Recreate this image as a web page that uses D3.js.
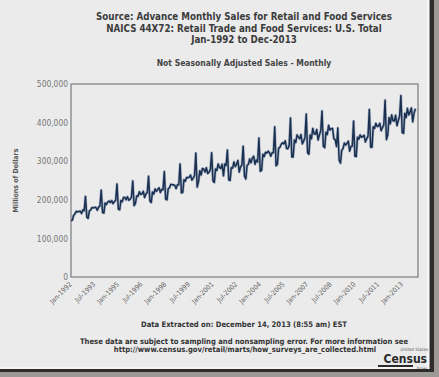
<!DOCTYPE html>
<html>
<head>
<meta charset="utf-8">
<script src="https://cdn.jsdelivr.net/npm/d3@7"></script>
<style>
  body { margin: 0; background: #ebebeb; }
  svg { display: block; }
</style>
</head>
<body>
<div class="visual-data"></div>
<script>
const width = 439;
const height = 377;
const plotLeft = 71;
const plotRight = 418;
const plotTop = 84;
const plotBottom = 277;

//Monthly sales, millions of dollars, Jan-1992 onwards
const startMonth = new Date(1992, 0, 1);
const sales1992_1997 = [
  146400, 147100, 159300, 163700, 170100, 168700, 169900, 170400, 164600, 173700, 171500, 208800,
  155000, 152000, 171000, 174000, 180000, 179000, 180500, 180000, 173000, 181000, 184000, 225000,
  167000, 166000, 192000, 188000, 194000, 197000, 193000, 198000, 190000, 195000, 199000, 241000,
  176000, 174000, 198000, 195000, 206000, 206000, 200000, 208000, 199000, 201000, 207000, 249000,
  185000, 191000, 210000, 209000, 221000, 214000, 215000, 222000, 206000, 215000, 219000, 261000,
  197000, 193000, 220000, 215000, 228000, 222000, 227000, 231000, 219000, 227000, 226000, 273000
];
const sales1998_2003 = [
  202000, 200000, 229000, 231000, 240000, 239000, 239000, 237000, 229000, 239000, 239000, 293000,
  218000, 219000, 252000, 248000, 258000, 257000, 259000, 264000, 251000, 256000, 263000, 321000,
  233000, 247000, 275000, 264000, 281000, 280000, 272000, 283000, 268000, 271000, 278000, 322000,
  249000, 245000, 280000, 276000, 293000, 284000, 281000, 292000, 262000, 293000, 289000, 329000,
  252000, 250000, 283000, 282000, 298000, 286000, 292000, 302000, 272000, 285000, 290000, 339000,
  261000, 254000, 289000, 292000, 306000, 296000, 308000, 313000, 292000, 303000, 298000, 360000
];
const sales2004_2008 = [
  274000, 276000, 318000, 312000, 323000, 321000, 326000, 322000, 313000, 322000, 322000, 389000,
  288000, 292000, 334000, 336000, 344000, 348000, 345000, 353000, 333000, 332000, 341000, 412000,
  311000, 311000, 355000, 348000, 368000, 363000, 358000, 369000, 345000, 352000, 361000, 422000,
  322000, 318000, 368000, 358000, 385000, 371000, 370000, 382000, 355000, 368000, 378000, 430000,
  339000, 335000, 375000, 369000, 393000, 381000, 384000, 385000, 358000, 356000, 338000, 386000
];
const sales2009_2013 = [
  303000, 295000, 328000, 333000, 347000, 342000, 346000, 352000, 326000, 338000, 339000, 404000,
  313000, 312000, 362000, 357000, 368000, 362000, 364000, 367000, 350000, 358000, 365000, 434000,
  336000, 336000, 389000, 385000, 398000, 390000, 391000, 398000, 379000, 387000, 394000, 458000,
  356000, 368000, 413000, 397000, 420000, 405000, 404000, 419000, 392000, 405000, 417000, 470000,
  374000, 372000, 424000, 413000, 437000, 420000, 427000, 438000, 402000, 424000, 436000
];
const xTickLabels = ["Jan-1992", "Jul-1993", "Jan-1995", "Jul-1996", "Jan-1998", "Jul-1999",
  "Jan-2001", "Jul-2002", "Jan-2004", "Jul-2005", "Jan-2007", "Jul-2008", "Jan-2010",
  "Jul-2011", "Jan-2013"];
const yTicks = [0, 100000, 200000, 300000, 400000, 500000];
const titleLines = ["Source: Advance Monthly Sales for Retail and Food Services",
  "NAICS 44X72: Retail Trade and Food Services: U.S. Total",
  "Jan-1992 to Dec-2013"];

const sales = sales1992_1997.concat(sales1998_2003, sales2004_2008, sales2009_2013);
const data = sales.map((v, i) => ({ date: d3.timeMonth.offset(startMonth, i), value: v }));
const parseTick = d3.timeParse("%b-%Y");
const font = "DejaVu Sans Condensed, DejaVu Sans";

var svg = d3.select(".visual-data")
            .append("svg")
            .attr("width", width)
            .attr("height", height);

//Background and photo frame
svg.append("rect").attr("width", width).attr("height", height).attr("fill", "#ebebeb");
svg.append("rect").attr("x", 427).attr("y", 0).attr("width", 2).attr("height", 369).attr("fill", "#f6f6f6");
svg.append("rect").attr("x", 429).attr("y", 0).attr("width", 10).attr("height", height).attr("fill", "#9c9a96");
svg.append("rect").attr("x", 430).attr("y", 0).attr("width", 4).attr("height", 372).attr("fill", "#2e2c2a");
svg.append("rect").attr("x", 0).attr("y", 367).attr("width", 429).attr("height", 2).attr("fill", "#f6f6f6");
svg.append("rect").attr("x", 0).attr("y", 369).attr("width", width).attr("height", 8).attr("fill", "#9c9a96");
svg.append("rect").attr("x", 0).attr("y", 369).attr("width", 434).attr("height", 3).attr("fill", "#2e2c2a");

//Scales
const xScale = d3.scaleTime()
                 .domain([startMonth, new Date(2014, 0, 1)])
                 .range([plotLeft, plotRight]);
const yScale = d3.scaleLinear()
                 .domain([0, 500000])
                 .range([plotBottom, plotTop]);

//Titles
svg.selectAll(".title")
   .data(titleLines)
   .enter()
   .append("text")
   .attr("class", "title")
   .attr("x", 244)
   .attr("y", (d, i) => 20 + i * 11.5)
   .attr("text-anchor", "middle")
   .style("font-family", font)
   .style("font-weight", "bold")
   .style("font-size", "9.7px")
   .style("fill", "#3c3c3c")
   .text(d => d);

svg.append("text")
   .attr("x", 244)
   .attr("y", 66)
   .attr("text-anchor", "middle")
   .style("font-family", font)
   .style("font-weight", "bold")
   .style("font-size", "8.5px")
   .style("fill", "#444")
   .text("Not Seasonally Adjusted Sales - Monthly");

//Plot border
svg.append("rect")
   .attr("x", plotLeft)
   .attr("y", plotTop)
   .attr("width", plotRight - plotLeft)
   .attr("height", plotBottom - plotTop)
   .attr("fill", "none")
   .attr("stroke", "#7a7a7a")
   .attr("stroke-width", 1.2);

//Y axis
const yAxis = d3.axisLeft(yScale)
                .tickValues(yTicks)
                .tickFormat(d3.format(","))
                .tickSize(0)
                .tickPadding(3);
svg.append("g")
   .attr("id", "y-axis")
   .attr("transform", "translate(" + plotLeft + ",0)")
   .call(yAxis)
   .call(g => g.select(".domain").remove())
   .selectAll("text")
   .style("font-family", font)
   .style("font-size", "8.4px")
   .style("fill", "#777");

//X axis
const xAxis = d3.axisBottom(xScale)
                .tickValues(xTickLabels.map(parseTick))
                .tickFormat(d3.timeFormat("%b-%Y"))
                .tickSize(0);
svg.append("g")
   .attr("id", "x-axis")
   .attr("transform", "translate(0," + plotBottom + ")")
   .call(xAxis)
   .call(g => g.select(".domain").remove())
   .selectAll("text")
   .attr("x", 0)
   .attr("y", 0)
   .attr("dy", "0.35em")
   .attr("transform", "translate(-1,6) rotate(-45)")
   .attr("text-anchor", "end")
   .style("font-family", font)
   .style("font-size", "6.9px")
   .style("fill", "#666");

//Y axis title
svg.append("text")
   .attr("transform", "translate(18," + ((plotTop + plotBottom) / 2) + ") rotate(-90)")
   .attr("text-anchor", "middle")
   .style("font-family", font)
   .style("font-weight", "bold")
   .style("font-size", "7px")
   .style("fill", "#555")
   .text("Millions of Dollars");

//Sales line
const line = d3.line()
               .x(d => xScale(d.date))
               .y(d => yScale(d.value));
svg.append("path")
   .datum(data)
   .attr("d", line)
   .attr("fill", "none")
   .attr("stroke", "#6d86a6")
   .attr("stroke-width", 2.8)
   .attr("stroke-opacity", 0.5)
   .attr("stroke-linejoin", "round");
svg.append("path")
   .datum(data)
   .attr("d", line)
   .attr("fill", "none")
   .attr("stroke", "#1b3050")
   .attr("stroke-width", 1.5)
   .attr("stroke-linejoin", "round");

//Footer notes
svg.append("text")
   .attr("x", 244)
   .attr("y", 327)
   .attr("text-anchor", "middle")
   .style("font-family", font)
   .style("font-weight", "bold")
   .style("font-size", "7.6px")
   .style("fill", "#333")
   .text("Data Extracted on: December 14, 2013 (8:55 am) EST");

svg.append("text")
   .attr("x", 244)
   .attr("y", 344)
   .attr("text-anchor", "middle")
   .style("font-family", font)
   .style("font-weight", "bold")
   .style("font-size", "7.6px")
   .style("fill", "#333")
   .text("These data are subject to sampling and nonsampling error. For more information see");

svg.append("text")
   .attr("x", 245)
   .attr("y", 352)
   .attr("text-anchor", "middle")
   .style("font-family", font)
   .style("font-weight", "bold")
   .style("font-size", "7.6px")
   .style("fill", "#333")
   .text("http://www.census.gov/retail/marts/how_surveys_are_collected.html");

//Census logo
svg.append("text")
   .attr("x", 428)
   .attr("y", 351)
   .attr("text-anchor", "end")
   .style("font-family", font)
   .style("font-style", "italic")
   .style("font-size", "4.5px")
   .style("fill", "#555")
   .text("United States");
svg.append("text")
   .attr("x", 427)
   .attr("y", 362.5)
   .attr("text-anchor", "end")
   .style("font-family", font)
   .style("font-weight", "bold")
   .style("font-size", "12px")
   .style("fill", "#2a2a2a")
   .text("Census");
svg.append("rect")
   .attr("x", 378).attr("y", 365).attr("width", 35).attr("height", 2)
   .attr("fill", "#2a2a2a");
svg.append("text")
   .attr("x", 427)
   .attr("y", 369)
   .attr("text-anchor", "end")
   .style("font-family", font)
   .style("font-size", "3.2px")
   .style("fill", "#555")
   .text("Bureau");
</script>
</body>
</html>
